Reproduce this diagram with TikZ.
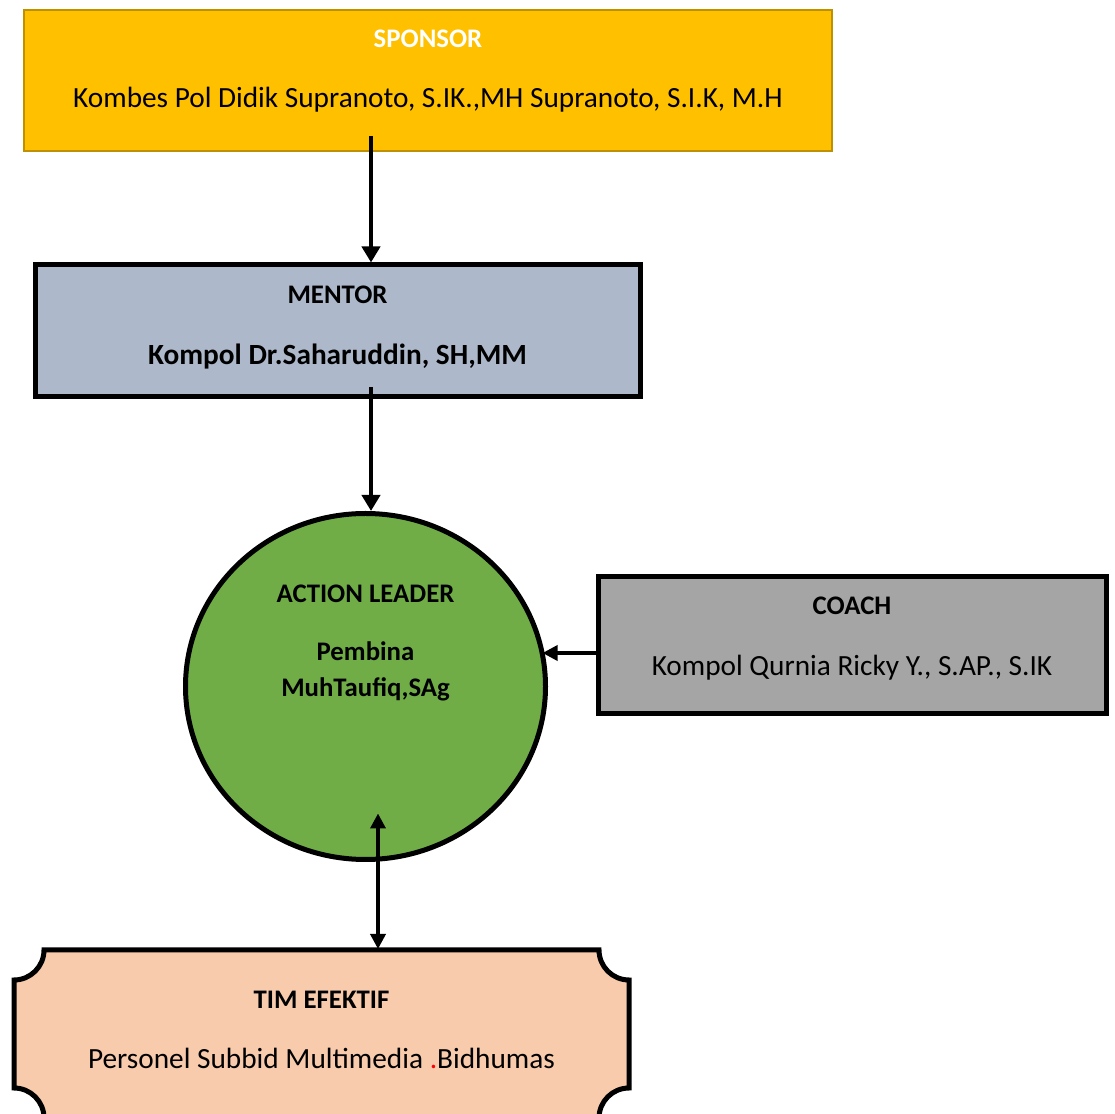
\documentclass[tikz,border=0pt]{standalone}
\usepackage{fontspec}
\setmainfont{Carlito}
\usetikzlibrary{shapes.geometric,arrows.meta,calc}
\definecolor{sponsorfill}{HTML}{FFC000}
\definecolor{sponsordraw}{HTML}{BF9000}
\definecolor{mentorfill}{HTML}{ADB9CA}
\definecolor{leaderfill}{HTML}{70AD47}
\definecolor{coachfill}{HTML}{A5A5A5}
\definecolor{timfill}{HTML}{F8CBAD}
\definecolor{dotred}{HTML}{FF0000}
\newcommand\fbody{\fontsize{29.3}{35}\selectfont}
\newcommand\ftitle{\fontsize{26.8}{32}\selectfont\bfseries}
\tikzset{
  box/.style={rectangle, inner sep=0pt, outer sep=0pt},
  txt/.style={inner sep=0pt, anchor=center, text depth=0pt},
  bigarr/.style={line width=4.5pt, -{Triangle[width=18pt,length=16pt]}},
  smallarr/.style={line width=3.5pt, -{Triangle[width=15pt,length=15pt]}},
  dblarr/.style={line width=3.5pt, {Triangle[width=15pt,length=15pt]}-{Triangle[width=15pt,length=15pt]}},
}
\begin{document}
\begin{tikzpicture}[x=1pt,y=1pt]
\useasboundingbox (0,0) rectangle (1115,1113);
% Sponsor
\node[box, draw=sponsordraw, line width=2pt, fill=sponsorfill, minimum width=808pt, minimum height=141pt] (sponsor) at (428,1032.5) {};
\node[txt, text=white] (sponsorT) at (428,1074) {\ftitle SPONSOR};
\node[txt] (sponsorN) at (428,1016) {\fbody Kombes Pol Didik Supranoto, S.IK.,MH Supranoto, S.I.K, M.H};
% Mentor
\node[box, draw=black, line width=5pt, fill=mentorfill, minimum width=605pt, minimum height=132pt] (mentor) at (337.5,782) {};
\node[txt] (mentorT) at (337.5,818) {\ftitle MENTOR};
\node[txt] (mentorN) at (337.5,759) {\fbody\bfseries Kompol Dr.Saharuddin, SH,MM};
% Action leader
\node[ellipse, draw=black, line width=5pt, fill=leaderfill, inner sep=0pt, outer sep=0pt, minimum width=360pt, minimum height=346pt] (al) at (365.5,426.5) {};
\node[txt] (alT) at (365.5,519) {\ftitle ACTION LEADER};
\node[txt] (alN1) at (365.5,462) {\ftitle Pembina};
\node[txt] (alN2) at (365.5,426) {\ftitle MuhTaufiq,SAg};
% Coach
\node[box, draw=black, line width=5pt, fill=coachfill, minimum width=508pt, minimum height=137pt] (coach) at (852,467.5) {};
\node[txt] (coachT) at (852,507) {\ftitle COACH};
\node[txt] (coachN) at (852,448) {\fbody Kompol Qurnia Ricky Y., S.AP., S.IK};
% Tim efektif
\node[box, minimum width=615pt, minimum height=168pt] (tim) at (321.5,79) {};
\draw[line width=5pt, fill=timfill]
  ($(tim.north west)+(30,0)$) -- ($(tim.north east)+(-30,0)$)
  arc[start angle=180, end angle=270, radius=30pt]
  -- ($(tim.south east)+(0,30)$)
  arc[start angle=90, end angle=180, radius=30pt]
  -- ($(tim.south west)+(30,0)$)
  arc[start angle=0, end angle=90, radius=30pt]
  -- ($(tim.north west)+(0,-30)$)
  arc[start angle=270, end angle=360, radius=30pt] -- cycle;
\node[txt] (timT) at (321.5,113) {\ftitle TIM EFEKTIF};
\node[txt] (timN) at (321.5,55) {\fbody Personel Subbid Multimedia {\color{dotred}.}Bidhumas};
% Connectors
\draw[bigarr] ([xshift=-57pt,yshift=15pt]sponsor.south) -- ([xshift=33.5pt,yshift=2.5pt]mentor.north);
\draw[bigarr] ([xshift=33.5pt,yshift=10pt]mentor.south) -- ([xshift=5.5pt,yshift=2.5pt]al.north);
\coordinate (cstart) at ([yshift=-7.5pt,xshift=2.5pt]coach.west);
\draw[smallarr] (cstart) -- (cstart -| al.10.5);
\draw[dblarr] ([xshift=12.5pt,yshift=46pt]al.south) -- ([xshift=56.5pt,yshift=1pt]tim.north);
\end{tikzpicture}
\end{document}
